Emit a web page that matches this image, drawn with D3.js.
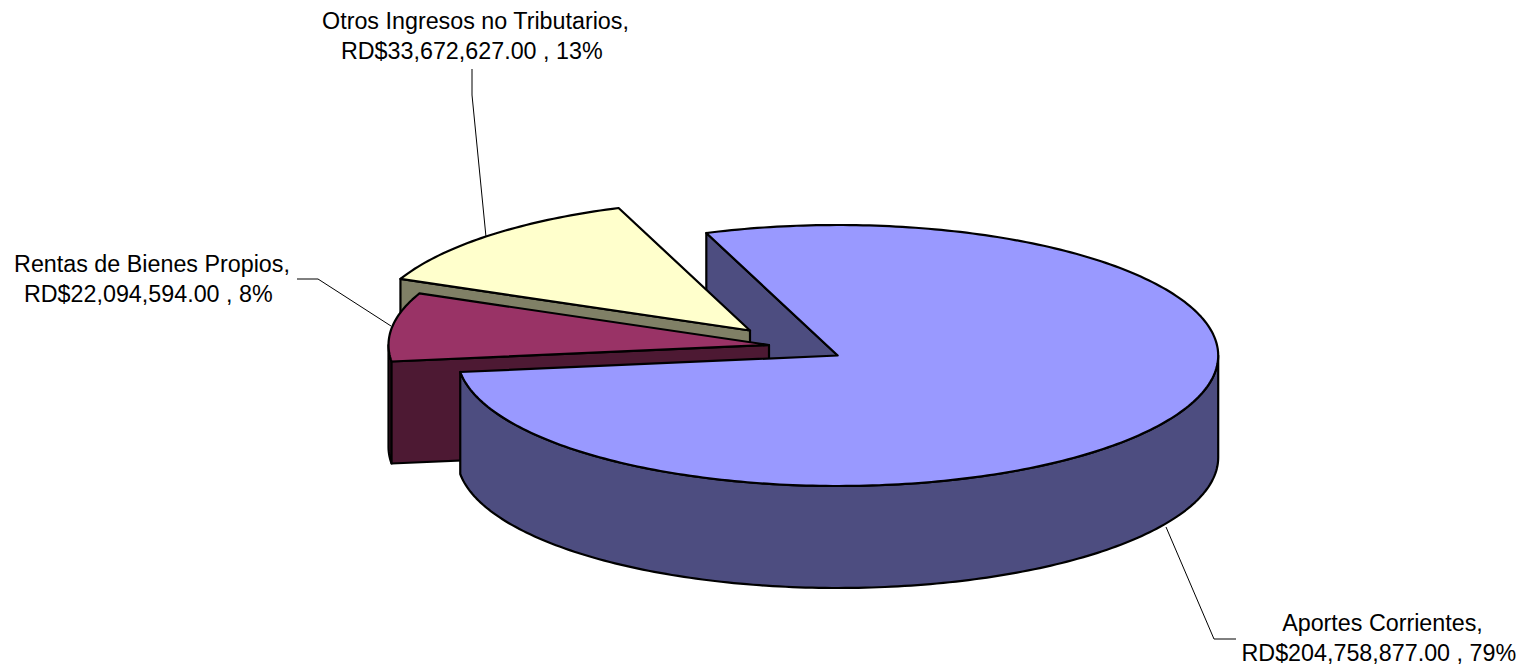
<!DOCTYPE html>
<html>
<head>
<meta charset="utf-8">
<script src="https://cdnjs.cloudflare.com/ajax/libs/d3/7.8.5/d3.min.js"></script>
<style>
  html, body { margin: 0; padding: 0; background: #fff; overflow: hidden; }
  svg { display: block; }
  text { font-family: "Liberation Sans", Arial, sans-serif; font-size: 23.3px; fill: #000; }
</style>
</head>
<body>
<div id="chart"></div>
<script>
// ============================================================
// DATA
// ============================================================
const categories = ["Aportes Corrientes", "Rentas de Bienes Propios", "Otros Ingresos no Tributarios"];
const values = [204758877, 22094594, 33672627];

// ============================================================
// LAYOUT
// ============================================================
const W = 1528, H = 671;
const rx = 380.5, ry = 130.5, depth = 102;
const startDeg = -20.2;
const topColors = ["#9999FF", "#993366", "#FFFFCC"];
const sideColors = ["#4D4D80", "#4D1933", "#808066"];
const apexes = [[837.7, 355.5], [769, 345], [750, 330.5]];
const labelPos = [[1382.5, 631], [152, 272], [475.5, 29]];
const leaders = [
  [[1166, 527], [1214, 639], [1236, 639]],
  [[297, 279], [318, 279], [391, 326]],
  [[472, 69], [472, 95], [486, 237]]
];

const svg = d3.select("#chart").append("svg").attr("width", W).attr("height", H);

const start = startDeg * Math.PI / 180;
const arcs = d3.pie().sort(null).startAngle(start).endAngle(start + 2 * Math.PI)(values);
const total = d3.sum(values);

// unit circle -> ellipse radii
const xScale = d3.scaleLinear().domain([-1, 1]).range([-rx, rx]);
const yScale = d3.scaleLinear().domain([-1, 1]).range([-ry, ry]);
const line = d3.line();

function rimPoint(i, t, dy) {
  return [apexes[i][0] + xScale(Math.sin(t)), apexes[i][1] + yScale(-Math.cos(t)) + dy];
}
function rim(i, a, b, dy) {
  const n = Math.max(2, Math.ceil(Math.abs(b - a) * 180 / Math.PI));
  return d3.range(n + 1).map(k => rimPoint(i, a + (b - a) * k / n, dy));
}
function poly(points, fill) {
  svg.append("path")
    .attr("d", line(points) + "Z")
    .attr("fill", fill)
    .attr("stroke", "#000").attr("stroke-width", 2.2).attr("stroke-linejoin", "round");
}
// radial wall, hanging below the edge from the apex to the rim at angle t
function radialWall(i, t) {
  const p = rimPoint(i, t, 0);
  const a = apexes[i];
  poly([a, p, [p[0], p[1] + depth], [a[0], a[1] + depth]], sideColors[i]);
}
// visible outer wall between angles a and b
function outerWall(i, a, b) {
  poly(rim(i, a, b, 0).concat(rim(i, b, a, depth)), sideColors[i]);
}
function topFace(i) {
  poly([apexes[i]].concat(rim(i, arcs[i].startAngle, arcs[i].endAngle, 0)), topColors[i]);
}

// ============================================================
// SLICES, back to front
// ============================================================
radialWall(0, arcs[0].startAngle);

radialWall(2, arcs[2].startAngle);
topFace(2);

outerWall(1, arcs[1].startAngle, 1.5 * Math.PI);
radialWall(1, arcs[1].startAngle);
topFace(1);

outerWall(0, 0.5 * Math.PI, arcs[0].endAngle);
topFace(0);

// ============================================================
// LABELS
// ============================================================
leaders.forEach(pts => {
  svg.append("path").attr("d", line(pts))
    .attr("fill", "none").attr("stroke", "#000").attr("stroke-width", 1);
});

categories.forEach((c, i) => {
  const t = svg.append("text").attr("text-anchor", "middle");
  t.append("tspan").attr("x", labelPos[i][0]).attr("y", labelPos[i][1]).text(c + ",");
  t.append("tspan").attr("x", labelPos[i][0] - 3.7).attr("y", labelPos[i][1] + 29.5)
    .text(`RD$${d3.format(",.2f")(values[i])} , ${d3.format(".0%")(values[i] / total)}`);
});
</script>
</body>
</html>
